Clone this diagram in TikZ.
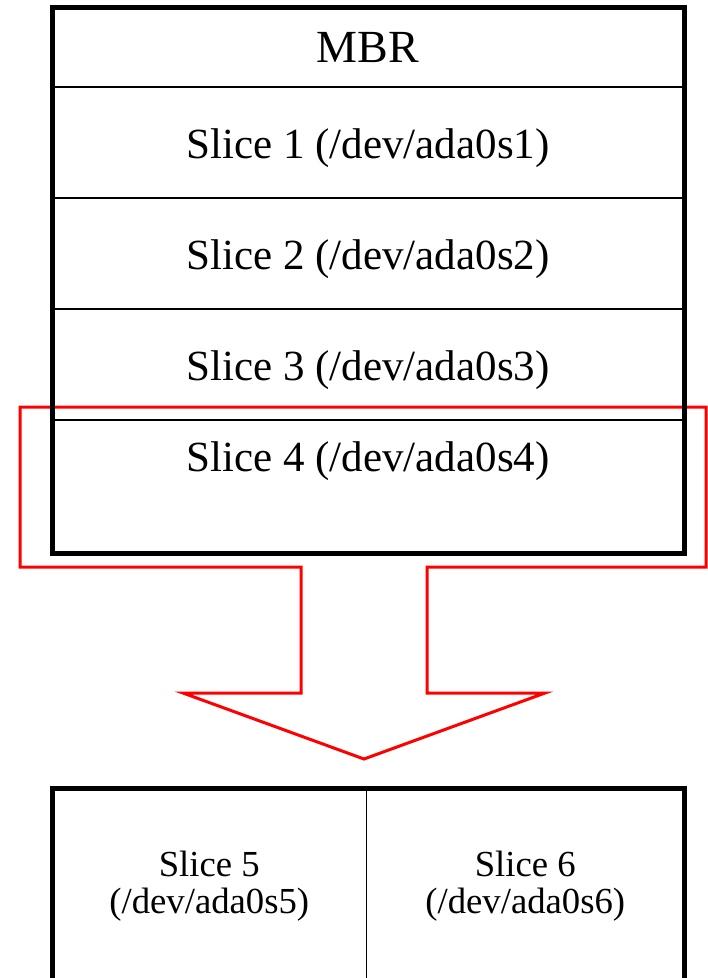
\documentclass[tikz,border=0pt]{standalone}
\usepackage{fontspec}
\setmainfont{Liberation Serif}
\usetikzlibrary{positioning}

\begin{document}
\begin{tikzpicture}[x=1pt, y=-1pt,
  cell/.style={draw, line width=1.6pt, inner sep=0pt, outer sep=0pt,
    minimum width=632pt, text height=31pt, text depth=0pt,
    font=\fontsize{43}{50}\selectfont},
  half/.style={draw, line width=1.6pt, inner sep=0pt, outer sep=0pt,
    minimum height=196pt, align=center,
    font=\fontsize{36.7}{36.5}\selectfont},
  frame/.style={line width=5pt, line join=miter},
  bigarrow/.style={draw=red, line width=3pt, line join=miter}]
  \useasboundingbox (0,0) rectangle (708,978);
  % hollow arrow round slice 4
  \draw[bigarrow] (20,407) -- (706,407) -- (706,567) -- (427,567) -- (427,693)
    -- (545,693) -- (364,759) -- (183,693) -- (301,693) -- (301,567)
    -- (20,567) -- cycle;
  % the disk
  \node[cell, minimum height=80pt, anchor=north west,
    font=\fontsize{46}{50}\selectfont] (mbr) at (52,7) {MBR};
  \node[cell, minimum height=111pt, below=0pt of mbr] (s1) {Slice 1 (/dev/ada0s1)};
  \node[cell, minimum height=111pt, below=0pt of s1]  (s2) {Slice 2 (/dev/ada0s2)};
  \node[cell, minimum height=111pt, below=0pt of s2]  (s3) {Slice 3 (/dev/ada0s3)};
  \node[cell, minimum height=133pt, below=0pt of s3,
    text height=0pt, text depth=31pt] (s4) {Slice 4 (/dev/ada0s4)};
  \draw[frame] (mbr.north west) rectangle (s4.south east);
  % inside slice 4
  \node[half, minimum width=314.5pt, anchor=north west] (s5) at (52,788)
    {Slice 5\\(/dev/ada0s5)};
  \node[half, minimum width=317.5pt, right=0pt of s5] (s6)
    {Slice 6\\(/dev/ada0s6)};
  \draw[frame] (s5.south west) -- (s5.north west) -- (s6.north east) -- (s6.south east);
\end{tikzpicture}
\end{document}
